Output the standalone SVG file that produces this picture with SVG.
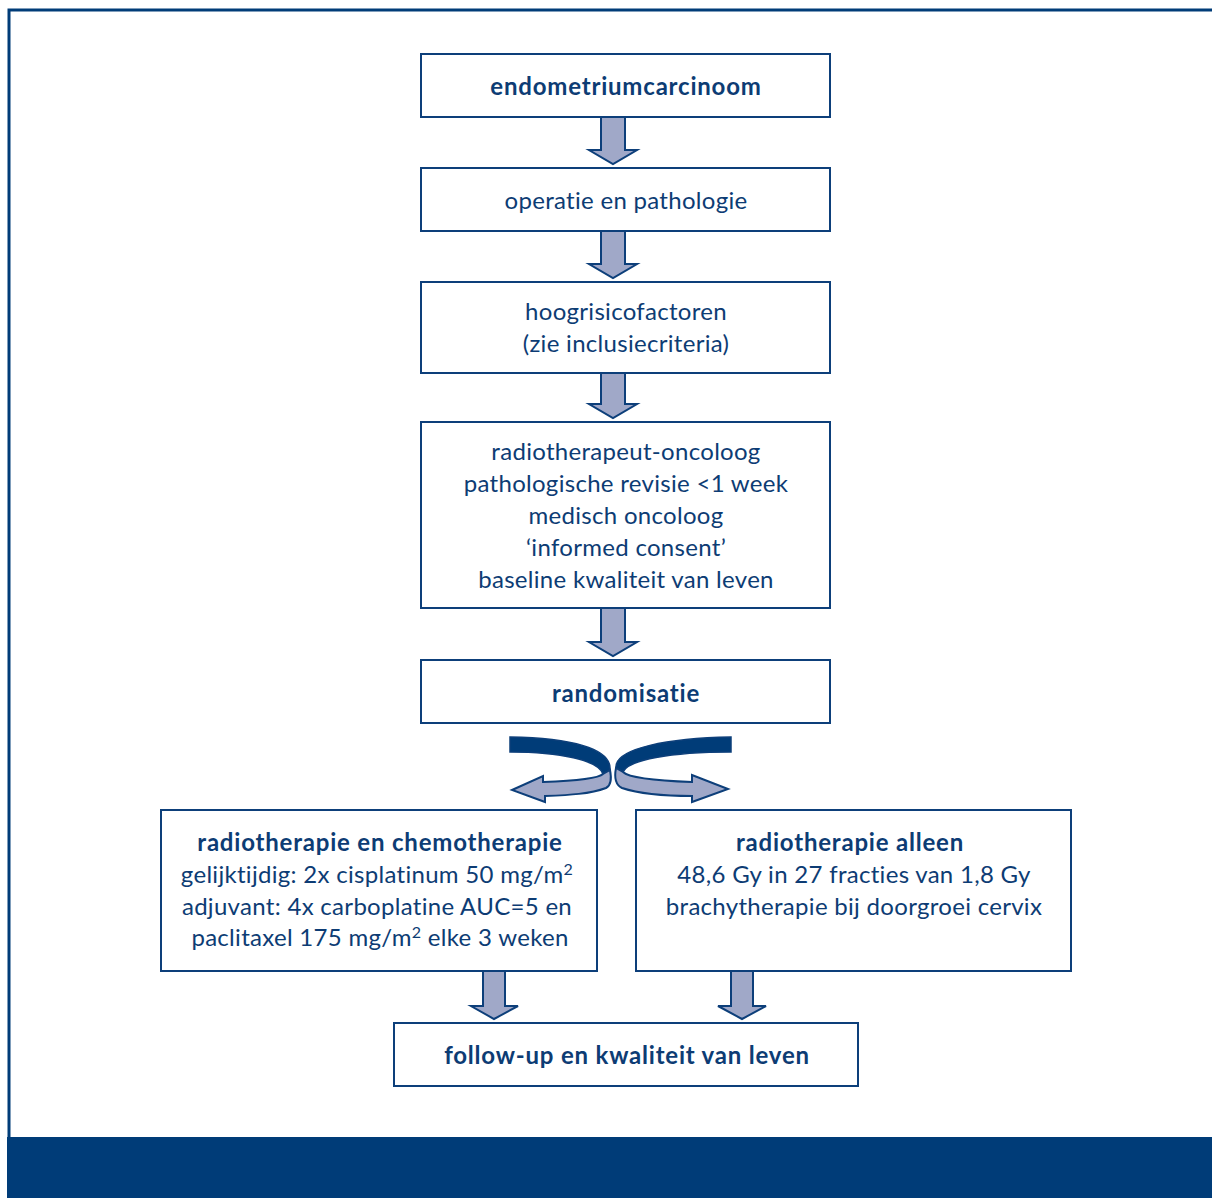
<svg xmlns="http://www.w3.org/2000/svg" width="1212" height="1198" viewBox="0 0 1212 1198">
<style>
.box{fill:#fff;stroke:#0d3f7a;stroke-width:2}
.t{font-family:Lato,"Open Sans",sans-serif;font-size:24px;fill:#0d3c74;text-anchor:middle;letter-spacing:0.3px;font-variant-ligatures:none}
.b{font-weight:bold;letter-spacing:0.8px}
.sup{font-size:16px}
.arr{fill:#a0a8c8;stroke:#0d3f7a;stroke-width:2;stroke-linejoin:miter}
.dark{fill:#003c78;stroke:#0d3f7a;stroke-width:1.5}
</style>
<rect width="1212" height="1198" fill="#fff"/>
<path d="M9,1137 L9,10 L1212,10" fill="none" stroke="#003c78" stroke-width="3"/>
<rect x="7" y="1137" width="1205" height="61" fill="#003c78"/>

<g id="connectors">
<path class="arr" d="M601,117 L601,150 L589,150 L613,164 L637,150 L625,150 L625,117"/>
<path class="arr" d="M601,231 L601,264 L589,264 L613,278 L637,264 L625,264 L625,231"/>
<path class="arr" d="M601,373 L601,404 L589,404 L613,418 L637,404 L625,404 L625,373"/>
<path class="arr" d="M601,608 L601,642 L589,642 L613,656 L637,642 L625,642 L625,608"/>
<path class="arr" d="M483,971 L483,1006 L471,1006 L494,1019 L518,1006 L505,1006 L505,971"/>
<path class="arr" d="M731,971 L731,1006 L718,1006 L742,1019 L766,1006 L753,1006 L753,971"/>
<path class="dark" d="M510,737 C570,738 612,748 610,770 L603,774 C598,760 560,752 510,752 Z"/>
<path class="arr" stroke-width="1.8" d="M603,774 L610,770 C612,780 610,786 606,788 C590,794 570,795 545,796 L545,802 L512,790 L543,776 L543,782 C570,781 598,779 603,774 Z"/>
<path class="dark" d="M731,737 C670,738 614,748 616,768 L623,772 C628,760 670,752 731,752 Z"/>
<path class="arr" stroke-width="1.8" d="M623,772 L616,768 C614,778 616,785 622,788 C640,794 665,796 692,796 L692,802 L728,789 L692,775 L692,782 C665,781 630,779 623,772 Z"/>
</g>

<g id="n1">
<rect class="box" x="421" y="54" width="409" height="63"/>
<text class="t b" x="626" y="95">endometriumcarcinoom</text>
</g>
<g id="n2">
<rect class="box" x="421" y="168" width="409" height="63"/>
<text class="t" x="626" y="209">operatie en pathologie</text>
</g>
<g id="n3">
<rect class="box" x="421" y="282" width="409" height="91"/>
<text class="t" x="626" y="320">hoogrisicofactoren</text>
<text class="t" x="626" y="352">(zie inclusiecriteria)</text>
</g>
<g id="n4">
<rect class="box" x="421" y="422" width="409" height="186"/>
<text class="t" x="626" y="460">radiotherapeut-oncoloog</text>
<text class="t" x="626" y="492">pathologische revisie &lt;1 week</text>
<text class="t" x="626" y="524">medisch oncoloog</text>
<text class="t" x="626" y="556">‘informed consent’</text>
<text class="t" x="626" y="588">baseline kwaliteit van leven</text>
</g>
<g id="n5">
<rect class="box" x="421" y="660" width="409" height="63"/>
<text class="t b" x="626" y="702">randomisatie</text>
</g>
<g id="n6">
<rect class="box" x="161" y="810" width="436" height="161"/>
<text class="t b" x="380" y="851">radiotherapie en chemotherapie</text>
<text class="t" x="377" y="883">gelijktijdig: 2x cisplatinum 50 mg/m<tspan class="sup" dy="-8">2</tspan></text>
<text class="t" x="377" y="915">adjuvant: 4x carboplatine AUC=5 en</text>
<text class="t" x="380" y="946">paclitaxel 175 mg/m<tspan class="sup" dy="-8">2</tspan><tspan dy="8"> elke 3 weken</tspan></text>
</g>
<g id="n7">
<rect class="box" x="636" y="810" width="435" height="161"/>
<text class="t b" x="850" y="851">radiotherapie alleen</text>
<text class="t" x="854" y="883">48,6 Gy in 27 fracties van 1,8 Gy</text>
<text class="t" x="854" y="915">brachytherapie bij doorgroei cervix</text>
</g>
<g id="n8">
<rect class="box" x="394" y="1023" width="464" height="63"/>
<text class="t b" x="627" y="1064">follow-up en kwaliteit van leven</text>
</g>
</svg>
